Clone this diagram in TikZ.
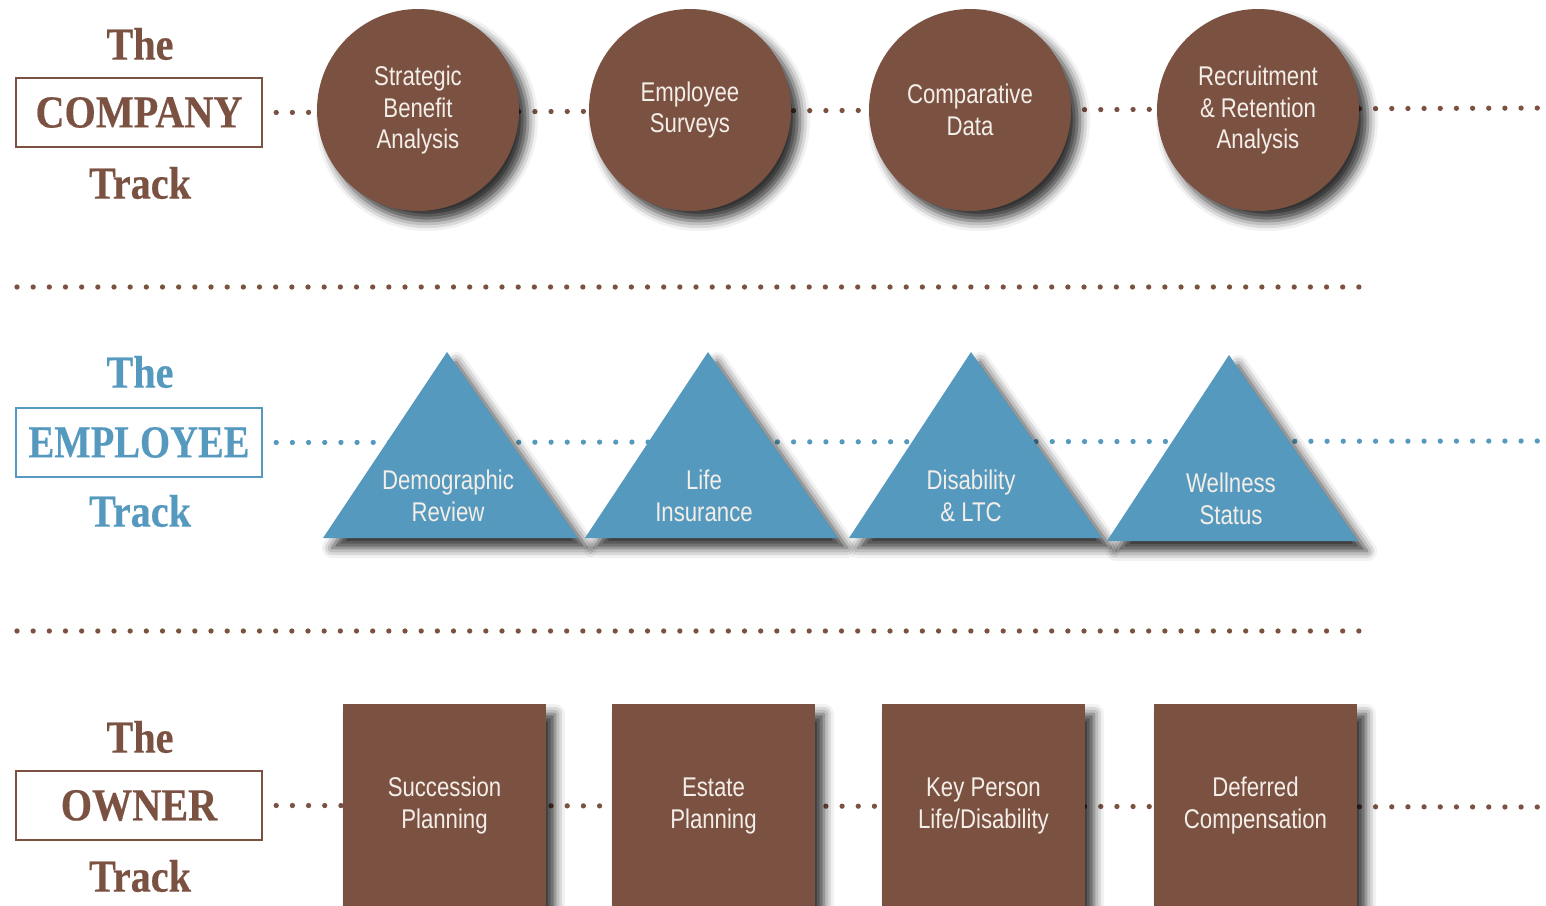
\documentclass[tikz,border=0pt]{standalone}
\usepackage{fontspec}
\setmainfont{Liberation Serif}
\setsansfont{Liberation Sans}[FakeStretch=0.82]
\newfontfamily\trackfont{Liberation Serif}[FakeStretch=0.88, BoldFeatures={FakeBold=0.4}]
\usetikzlibrary{shadows.blur}

\definecolor{trackbrown}{RGB}{123,82,66}
\definecolor{trackblue}{RGB}{86,153,190}
\definecolor{shapetext}{RGB}{244,238,232}

\begin{document}
\begin{tikzpicture}[
    heading/.style={font=\trackfont\bfseries\fontsize{13}{15}\selectfont, inner sep=0pt},
    trackbox/.style={heading, draw, line width=0.7pt, minimum width=2.46cm, minimum height=0.69cm},
    lifted/.style={blur shadow={shadow xshift=0.09cm, shadow yshift=-0.10cm, shadow blur radius=0.10cm, shadow opacity=80}},
    bubble/.style={circle, fill=trackbrown, minimum size=2.02cm, inner sep=0pt, lifted},
    block/.style={rectangle, fill=trackbrown, minimum width=2.03cm, minimum height=2.03cm, inner sep=0pt, lifted},
    wedge/.style={fill=trackblue, lifted},
    intext/.style={font=\sffamily\fontsize{7.7}{9.1}\selectfont, text=shapetext, align=center},
    dots/.style={line width=1.5pt, line cap=round, dash pattern=on 0pt off 4.6pt},
]
\useasboundingbox (0, 0) rectangle (15.46, 9.05);

% Track headings
\node[heading, trackbrown] (company the) at (1.40, 8.61) {The};
\node[trackbox, trackbrown] (company) at (1.39, 7.925) {COMPANY};
\node[heading, trackbrown] (company track) at (1.40, 7.22) {Track};

\node[heading, trackblue] (employee the) at (1.40, 5.33) {The};
\node[trackbox, trackblue] (employee) at (1.39, 4.625) {\scalebox{0.96}[1]{EMPLOYEE}};
\node[heading, trackblue] (employee track) at (1.40, 3.94) {Track};

\node[heading, trackbrown] (owner the) at (1.40, 1.68) {The};
\node[trackbox, trackbrown] (owner) at (1.39, 0.995) {OWNER};
\node[heading, trackbrown] (owner track) at (1.40, 0.29) {Track};

% Dotted tracks (behind the shapes)
\coordinate (company end) at (15.50, 7.97);
\coordinate (employee end) at (15.50, 4.64);
\coordinate (owner end) at (15.50, 0.98);
\draw[dots, trackbrown] ([xshift=0.13cm]company.east) -- (company end);
\draw[dots, trackblue] ([xshift=0.13cm]employee.east) -- (employee end);
\draw[dots, trackbrown] ([xshift=0.13cm]owner.east) -- (owner end);

% Separators
\draw[dots, trackbrown] (0.17, 6.18) -- (13.60, 6.18);
\draw[dots, trackbrown] (0.17, 2.74) -- (13.60, 2.74);

% Company row
\node[bubble, intext] (strategic) at (4.18, 7.95) {Strategic\\Benefit\\Analysis};
\node[bubble, intext] (surveys) at (6.90, 7.95) {Employee\\Surveys};
\node[bubble, intext] (comparative) at (9.70, 7.95) {Comparative\\Data};
\node[bubble, intext] (recruitment) at (12.58, 7.95) {Recruitment\\\& Retention\\Analysis};

% Employee row
\fill[wedge] (4.47, 5.53) -- (3.23, 3.67) -- (5.78, 3.67) -- cycle;
\fill[wedge] (7.08, 5.53) -- (5.85, 3.67) -- (8.38, 3.67) -- cycle;
\fill[wedge] (9.71, 5.53) -- (8.49, 3.67) -- (11.02, 3.67) -- cycle;
\fill[wedge] (12.29, 5.50) -- (11.07, 3.64) -- (13.58, 3.64) -- cycle;
\node[intext] (demographic) at (4.48, 4.09) {Demographic\\Review};
\node[intext] (life) at (7.04, 4.09) {Life\\Insurance};
\node[intext] (disability) at (9.71, 4.09) {Disability\\\& LTC};
\node[intext] (wellness) at (12.31, 4.06) {Wellness\\Status};

% Owner row
\node[block, intext] (succession) at (4.445, 0.995) {Succession\\Planning};
\node[block, intext] (estate) at (7.135, 0.995) {Estate\\Planning};
\node[block, intext] (keyperson) at (9.835, 0.995) {Key Person\\Life/Disability};
\node[block, intext] (deferred) at (12.555, 0.995) {Deferred\\Compensation};

\end{tikzpicture}
\end{document}
